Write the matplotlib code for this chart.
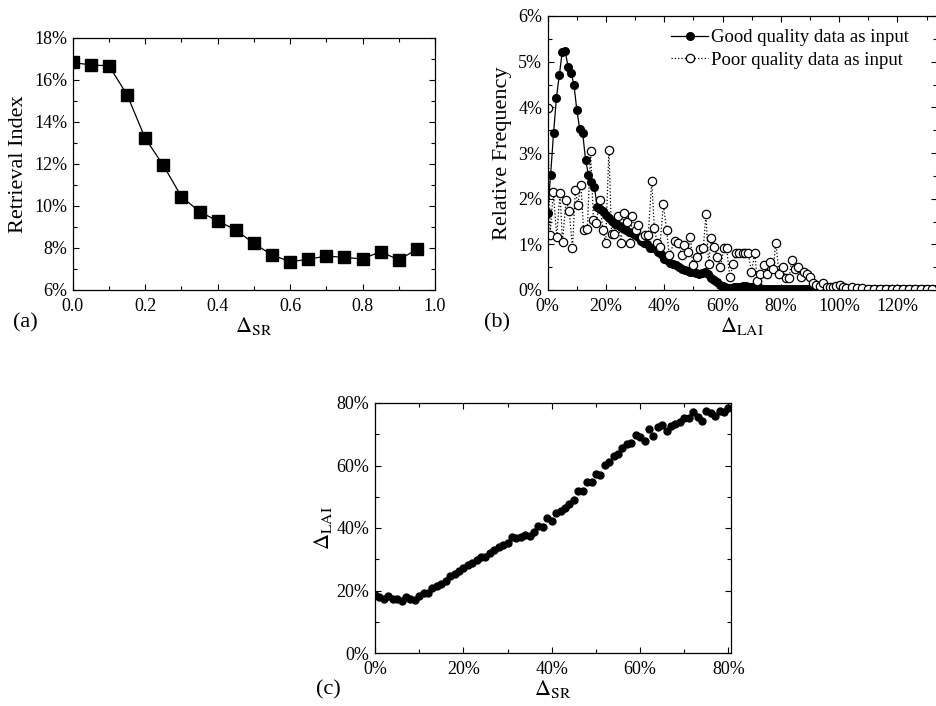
import numpy as np
import matplotlib
matplotlib.use("Agg")
import matplotlib.pyplot as plt
from matplotlib.ticker import MultipleLocator, PercentFormatter, FormatStrFormatter

plt.rcParams['font.family'] = ['Liberation Serif', 'DejaVu Serif']
plt.rcParams['mathtext.fontset'] = 'stix'

# (a) retrieval index vs threshold
a_x = [0.0, 0.05, 0.1, 0.15, 0.2, 0.25, 0.3, 0.35, 0.4, 0.45,
       0.5, 0.55, 0.6, 0.65, 0.7, 0.75, 0.8, 0.85, 0.9, 0.95]
a_y = [16.84, 16.71, 16.68, 15.30, 13.23, 11.94, 10.45, 9.73, 9.29, 8.86,
       8.22, 7.67, 7.35, 7.46, 7.62, 7.55, 7.48, 7.83, 7.43, 7.94]

# (b) relative frequency of LAI error
good_x = list(range(0, 136))
good_y = [1.68, 2.52, 3.43, 4.21, 4.71, 5.22, 5.23, 4.89, 4.76, 4.50,
          3.94, 3.52, 3.43, 2.85, 2.52, 2.37, 2.26, 1.82, 1.78, 1.72,
          1.65, 1.58, 1.52, 1.45, 1.42, 1.38, 1.35, 1.31, 1.28, 1.24,
          1.21, 1.15, 1.08, 1.04, 1.00, 0.93, 0.91, 0.90, 0.84, 0.78,
          0.68, 0.65, 0.60, 0.57, 0.54, 0.50, 0.47, 0.44, 0.41, 0.40,
          0.39, 0.37, 0.36, 0.37, 0.40, 0.34, 0.26, 0.21, 0.17, 0.12,
          0.09, 0.07, 0.05, 0.05, 0.06, 0.06, 0.07, 0.08, 0.09, 0.07,
          0.06, 0.05, 0.04, 0.04, 0.03, 0.03, 0.03, 0.02, 0.03, 0.02,
          0.02, 0.03, 0.02, 0.02, 0.03, 0.02, 0.02, 0.02, 0.03, 0.02,
          0.02, 0.02, 0.02, 0.03, 0.02, 0.02, 0.02, 0.02, 0.02, 0.03,
          0.02, 0.02, 0.02, 0.02, 0.02, 0.03, 0.02, 0.02, 0.02, 0.02,
          0.02, 0.02, 0.02, 0.03, 0.02, 0.02, 0.02, 0.02, 0.02, 0.03,
          0.02, 0.02, 0.02, 0.02, 0.02, 0.03, 0.02, 0.02, 0.02, 0.02,
          0.02, 0.02, 0.02, 0.02, 0.02, 0.02]
poor_x = [0.0, 0.8, 1.9, 3.1, 4.2, 5.1, 6.3, 7.4, 8.5, 9.5,
          10.3, 11.4, 12.3, 13.6, 14.7, 15.7, 16.6, 17.9, 18.9, 19.9,
          21.0, 21.9, 22.9, 24.0, 25.1, 26.2, 27.1, 28.2, 29.1, 30.2,
          31.1, 32.2, 33.4, 34.5, 35.7, 36.6, 37.6, 38.5, 39.7, 40.8,
          41.7, 43.7, 44.8, 46.0, 46.9, 48.0, 49.0, 49.7, 51.1, 52.2,
          53.4, 54.3, 55.2, 56.2, 57.1, 58.2, 59.3, 60.5, 61.4, 62.5,
          63.7, 64.6, 65.7, 66.9, 67.8, 68.8, 69.9, 71.1, 71.9, 73.0,
          74.2, 75.1, 76.2, 77.4, 78.3, 79.4, 80.6, 81.7, 82.9, 83.7,
          84.8, 86.0, 86.9, 87.9, 89.0, 89.9, 91.1, 92.2, 93.4, 94.5,
          95.7, 96.8, 97.9, 99.0, 100.2, 101.3, 102.5, 104.6, 106.0, 108.0,
          110.0, 112.0, 114.0, 116.0, 118.0, 120.0, 122.0, 124.0, 126.0, 128.0,
          130.0, 132.0]
poor_y = [3.98, 1.20, 2.15, 1.17, 2.12, 1.06, 1.97, 1.72, 0.91, 2.19,
          1.86, 2.31, 1.31, 1.33, 3.04, 1.53, 1.46, 1.97, 1.31, 1.04,
          3.07, 1.22, 1.22, 1.61, 1.04, 1.68, 1.50, 1.04, 1.62, 1.31,
          1.42, 1.17, 1.20, 1.20, 2.39, 1.35, 1.02, 0.95, 1.88, 1.31,
          0.77, 1.08, 1.02, 0.77, 0.99, 0.84, 1.15, 0.55, 0.73, 0.89,
          0.91, 1.66, 0.58, 1.13, 0.95, 0.73, 0.51, 0.93, 0.91, 0.28,
          0.58, 0.80, 0.82, 0.82, 0.82, 0.82, 0.40, 0.80, 0.20, 0.36,
          0.55, 0.36, 0.62, 0.47, 1.04, 0.35, 0.51, 0.26, 0.26, 0.66,
          0.45, 0.51, 0.29, 0.40, 0.36, 0.28, 0.16, 0.11, 0.09, 0.15,
          0.07, 0.07, 0.07, 0.09, 0.11, 0.06, 0.05, 0.07, 0.04, 0.04,
          0.03, 0.03, 0.02, 0.03, 0.02, 0.02, 0.03, 0.02, 0.02, 0.02,
          0.02, 0.02]

# (c) LAI error vs SR error
c_x = list(range(0, 81))
c_y = [18.7, 17.9, 17.3, 18.4, 17.3, 17.3, 16.8, 17.8, 17.3, 17.1,
       18.4, 19.2, 19.2, 20.8, 21.3, 22.1, 23.2, 24.5, 25.3, 26.2,
       27.1, 28.2, 28.9, 29.8, 30.8, 30.8, 31.9, 33.0, 33.8, 34.5,
       35.3, 37.2, 36.7, 37.2, 37.8, 37.4, 38.8, 40.6, 40.2, 43.1,
       42.4, 44.8, 45.3, 46.4, 47.8, 49.1, 52.0, 52.0, 54.6, 54.6,
       57.4, 57.1, 60.3, 61.0, 63.1, 63.8, 65.6, 67.0, 67.2, 69.9,
       69.1, 68.0, 71.7, 69.5, 72.2, 73.1, 70.9, 72.7, 73.3, 73.9,
       75.2, 75.2, 77.0, 75.5, 74.4, 77.6, 76.8, 75.9, 77.3, 77.0,
       78.4]

W, H = 937, 706
fig = plt.figure(figsize=(W / 100, H / 100), dpi=100)


def box(l, t, r, b):
    return [l / W, 1 - b / H, (r - l) / W, (b - t) / H]


def style(ax):
    ax.tick_params(which='both', direction='in', top=True, right=True,
                   labelsize=13, width=0.8)
    ax.tick_params(axis='x', pad=6)
    ax.tick_params(axis='y', pad=4)
    ax.tick_params(which='major', length=4.5)
    ax.tick_params(which='minor', length=3)
    for s in ax.spines.values():
        s.set_linewidth(0.9)


ax1 = fig.add_axes(box(72.7, 38, 435, 290))
ax1.plot(a_x, a_y, color='black', lw=0.9, marker='s', ms=8)
ax1.set_xlim(0, 1.0)
ax1.set_ylim(6, 18)
ax1.xaxis.set_major_locator(MultipleLocator(0.2))
ax1.xaxis.set_minor_locator(MultipleLocator(0.1))
ax1.xaxis.set_major_formatter(FormatStrFormatter('%.1f'))
ax1.yaxis.set_major_locator(MultipleLocator(2))
ax1.yaxis.set_minor_locator(MultipleLocator(1))
ax1.yaxis.set_major_formatter(PercentFormatter(100, decimals=0))
ax1.set_ylabel('Retrieval Index', fontsize=16, labelpad=4)
ax1.set_xlabel(r'$\Delta_{\rm SR}$', fontsize=16, labelpad=0)
style(ax1)

ax2 = fig.add_axes(box(547.7, 16, 937, 290))
ax2.plot(good_x, good_y, color='black', lw=0.9, marker='o', ms=5.5,
         label='Good quality data as input')
ax2.plot(poor_x, poor_y, color='black', lw=0.9, ls=':', marker='o', ms=6,
         mfc='white', mew=0.9, label='Poor quality data as input')
ax2.set_xlim(0, 133.6)
ax2.set_ylim(0, 6)
ax2.xaxis.set_major_locator(MultipleLocator(20))
ax2.xaxis.set_minor_locator(MultipleLocator(10))
ax2.xaxis.set_major_formatter(PercentFormatter(100, decimals=0))
ax2.yaxis.set_major_locator(MultipleLocator(1))
ax2.yaxis.set_minor_locator(MultipleLocator(0.5))
ax2.yaxis.set_major_formatter(PercentFormatter(100, decimals=0))
ax2.set_ylabel('Relative Frequency', fontsize=16, labelpad=4)
ax2.set_xlabel(r'$\Delta_{\rm LAI}$', fontsize=16, labelpad=0)
ax2.legend(loc='upper left', bbox_to_anchor=(671 / W, 1 - 29 / H),
           bbox_transform=fig.transFigure, frameon=False, fontsize=13.5,
           handlelength=2.0, handletextpad=0.15, labelspacing=0.3,
           borderaxespad=0, borderpad=0)
style(ax2)

ax3 = fig.add_axes(box(375, 403, 730.7, 653))
ax3.plot(c_x, c_y, ls='none', marker='o', color='black', ms=5)
ax3.set_xlim(0, 80.5)
ax3.set_ylim(0, 80)
for axis in (ax3.xaxis, ax3.yaxis):
    axis.set_major_locator(MultipleLocator(20))
    axis.set_minor_locator(MultipleLocator(10))
    axis.set_major_formatter(PercentFormatter(100, decimals=0))
ax3.set_ylabel(r'$\Delta_{\rm LAI}$', fontsize=16, labelpad=2)
ax3.set_xlabel(r'$\Delta_{\rm SR}$', fontsize=16, labelpad=0)
style(ax3)

fig.text(13 / W, 1 - 323 / H, '(a)', fontsize=16, va='center')
fig.text(484 / W, 1 - 323 / H, '(b)', fontsize=16, va='center')
fig.text(316 / W, 1 - 690 / H, '(c)', fontsize=16, va='center')

fig.savefig('out.png', dpi=100)
